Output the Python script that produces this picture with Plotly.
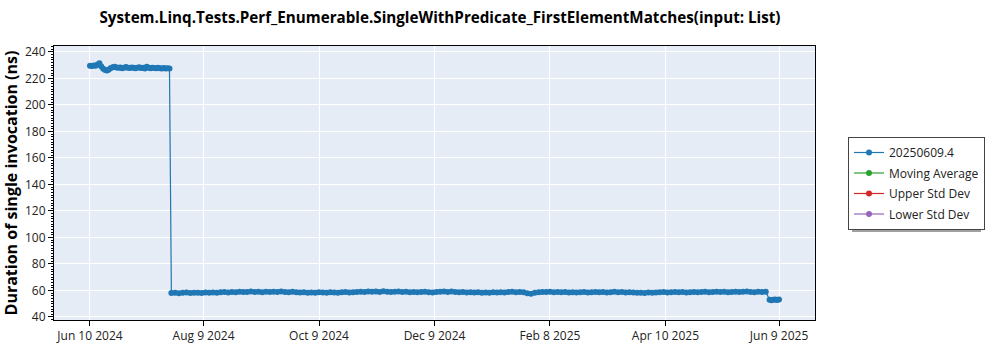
import pandas as pd
import plotly.graph_objects as go

TITLE = "System.Linq.Tests.Perf_Enumerable.SingleWithPredicate_FirstElementMatches(input: List)"
SERIES_NAME = "20250609.4"
EXTRA_SERIES = ["Moving Average", "Upper Std Dev", "Lower Std Dev"]
EXTRA_COLORS = ["#2ca02c", "#d62728", "#9467bd"]

# Daily runs before the regression fix
seg1_start = "2024-06-10"
seg1_values = [
    229.6, 229.4, 229.8, 229.5, 230.6, 231.4, 229.0, 227.4, 226.3, 226.0,
    226.8, 227.9, 228.4, 228.9, 228.3, 228.0, 228.2, 227.8, 228.1, 228.6,
    228.0, 227.9, 228.3, 228.1, 227.7, 228.0, 228.4, 227.9, 228.0, 227.6,
    228.9, 228.0, 227.8, 228.1, 227.9, 227.7, 228.0, 227.8, 227.6, 227.9,
    227.5, 227.8, 227.6,
]

# Runs every other day after the drop
seg2_start = "2024-07-23"
seg2_values = [
    58.1, 58.3, 57.9, 58.2, 58.4, 58.0, 58.2, 58.3, 58.1, 58.4,
    58.2, 58.5, 58.3, 58.6, 58.8, 58.5, 58.9, 58.7, 59.1, 58.8,
    58.9, 59.2, 58.8, 59.0, 58.7, 59.1, 58.9, 59.0, 58.8, 59.2,
    58.9, 58.7, 59.0, 58.6, 58.4, 58.7, 58.3, 58.5, 58.2, 58.6,
    58.4, 58.3, 58.7, 58.5, 58.2, 58.6, 58.8, 58.4, 58.7, 58.9,
    59.1, 58.8, 59.3, 59.0, 59.2, 58.9, 59.4, 59.1, 58.8, 59.0,
    59.2, 58.9, 59.1, 58.7, 58.9, 58.6, 58.8, 59.0, 58.7, 58.5,
    58.8, 59.1, 59.3, 58.9, 59.2, 58.8, 58.6, 58.9, 58.5, 58.7,
    58.4, 58.6, 58.3, 58.5, 58.2, 58.6, 58.4, 58.7, 58.5, 58.8,
    59.0, 58.7, 58.9, 58.6, 57.9, 57.6, 58.2, 58.7, 58.9, 58.8,
    59.0, 58.7, 58.9, 58.6, 58.8, 58.5, 58.7, 58.4, 58.6, 58.8,
    58.5, 58.7, 58.9, 58.6, 58.8, 58.5, 58.7, 59.0, 58.6, 58.8,
    58.5, 58.7, 58.4, 58.2, 58.3, 58.1, 58.4, 58.2, 58.5, 58.6,
    58.8, 58.5, 58.7, 58.9, 58.6, 58.8, 58.5, 58.7, 58.9, 58.6,
    58.8, 59.0, 58.7, 58.9, 59.1, 58.8, 59.0, 58.7, 58.9, 59.1,
    58.8, 59.0, 59.2, 58.9, 58.7, 59.0, 58.8, 59.1,
]

# Latest daily runs
seg3_start = "2025-06-04"
seg3_values = [53.0, 52.6, 52.9, 53.2, 52.8, 53.1]

tick_dates = ["2024-06-10", "2024-08-09", "2024-10-09", "2024-12-09",
              "2025-02-08", "2025-04-10", "2025-06-09"]
tick_labels = ["Jun 10 2024", "Aug 9 2024", "Oct 9 2024", "Dec 9 2024",
               "Feb 8 2025", "Apr 10 2025", "Jun 9 2025"]

dates = (list(pd.date_range(seg1_start, periods=len(seg1_values), freq="D"))
         + list(pd.date_range(seg2_start, periods=len(seg2_values), freq="2D"))
         + list(pd.date_range(seg3_start, periods=len(seg3_values), freq="D")))
values = seg1_values + seg2_values + seg3_values

FONT = "Open Sans"

fig = go.Figure()
fig.add_trace(go.Scatter(
    x=dates, y=values, name=SERIES_NAME, mode="lines+markers",
    legendgroup="g0",
    line=dict(color="#1f77b4", width=1.2),
    marker=dict(color="#1f77b4", size=6),
))
for i, (name, color) in enumerate(zip(EXTRA_SERIES, EXTRA_COLORS), start=1):
    fig.add_trace(go.Scatter(
        x=[None], y=[None], name=name, mode="lines+markers",
        legendgroup=f"g{i}",
        line=dict(color=color, width=1.2), marker=dict(color=color, size=6),
    ))

L, R, T, B = 54, 185, 46, 30
W, H = 1000, 350
pw, ph = W - L - R, H - T - B

def px_x(x):
    return (x - L) / pw

def px_y(y):
    return (H - B - y) / ph

# legend drop shadow
fig.add_shape(type="rect", xref="paper", yref="paper",
              x0=px_x(852), x1=px_x(981), y0=px_y(232), y1=px_y(141),
              fillcolor="#a0a0a0", line=dict(width=0), layer="above")

fig.update_layout(
    width=W, height=H,
    margin=dict(l=L, r=R, t=T, b=B, autoexpand=False),
    paper_bgcolor="white", plot_bgcolor="#E5ECF6",
    font=dict(family=FONT, size=12, color="#222"),
    title=dict(text=f"<b>{TITLE}</b>", x=px_x(440), xref="paper", xanchor="center",
               y=1 - 18 / H, yanchor="middle", font=dict(size=15.2, color="black")),
    showlegend=True,
    legend=dict(x=px_x(848), y=px_y(137), xanchor="left", yanchor="top",
                bgcolor="white", bordercolor="#444", borderwidth=1,
                font=dict(size=12, color="#222"), tracegroupgap=1.5),
    xaxis=dict(
        type="date", range=["2024-05-22", "2025-06-28"], automargin=False,
        tickmode="array", tickvals=tick_dates, ticktext=tick_labels,
        showgrid=True, gridcolor="white", gridwidth=1,
        showline=True, linecolor="black", linewidth=1, mirror=True,
        ticks="outside", ticklen=5, tickcolor="black",
        tickfont=dict(size=12, color="#222"), zeroline=False,
    ),
    yaxis=dict(
        range=[37.7, 244.5], dtick=20, tick0=0, automargin=False,
        showgrid=True, gridcolor="white", gridwidth=1,
        showline=True, linecolor="black", linewidth=1, mirror=True,
        ticks="outside", ticklen=5, tickcolor="black",
        minor=dict(dtick=2, ticks="outside", ticklen=2, tickcolor="black", showgrid=False),
        tickfont=dict(size=12, color="#222"), zeroline=False,
        title=dict(text="<b>Duration of single invocation (ns)</b>",
                   font=dict(size=16, color="black"), standoff=6),
    ),
)

fig.write_html("out.html")
